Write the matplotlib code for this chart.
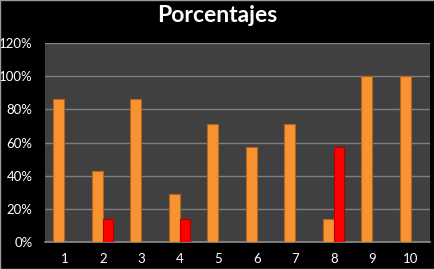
import numpy as np
import matplotlib
matplotlib.use("Agg")
import matplotlib.pyplot as plt
from matplotlib.ticker import PercentFormatter

# Data
categories = ["1", "2", "3", "4", "5", "6", "7", "8", "9", "10"]
orange_vals = [86, 43, 86, 29, 71, 57, 71, 14, 100, 100]
red_vals = [0, 14, 0, 14, 0, 0, 0, 57, 0, 0]

plt.rcParams['font.family'] = ['Lato', 'DejaVu Sans']

fig = plt.figure(figsize=(4.35, 2.69), dpi=100, facecolor='black')
ax = fig.add_axes([45 / 435, 1 - 242 / 269, 385 / 435, 199 / 269])
ax.set_facecolor('#404040')

x = np.arange(len(categories))
w = 0.29
ax.bar(x - w / 2, orange_vals, width=w, color='#F79431', edgecolor='#B8621C',
       linewidth=0.8, zorder=3)
red_x = [xi + w / 2 for xi, v in zip(x, red_vals) if v > 0]
red_h = [v for v in red_vals if v > 0]
ax.bar(red_x, red_h, width=w * 0.92, color='#FF0000', edgecolor='#B00000',
       linewidth=0.8, zorder=3)

ax.set_xlim(-0.5, len(categories) - 0.5)
ax.set_ylim(0, 120)
ax.set_yticks(range(0, 121, 20))
ax.yaxis.set_major_formatter(PercentFormatter(decimals=0))
ax.set_xticks(x)
ax.set_xticklabels(categories)
ax.grid(axis='y', color='#7f7f7f', linewidth=1, zorder=1)
ax.tick_params(colors='white', labelsize=9.5, length=0)
ax.tick_params(axis='x', pad=8)
ax.tick_params(axis='y', pad=9)
for s in ['left', 'right', 'top']:
    ax.spines[s].set_visible(False)
ax.spines['bottom'].set_color('#8c8c8c')
ax.spines['bottom'].set_linewidth(1.2)

fig.text(0.5, 1 - 16 / 269, 'Porcentajes', color='white', fontsize=16.5,
         fontweight='bold', ha='center', va='center')

# thin light frame around the chart image
fig.patches.append(plt.Rectangle((0, 0), 1, 1, transform=fig.transFigure,
                                 fill=False, edgecolor='#9a9a9a', linewidth=1))

fig.savefig('out.png', dpi=100, facecolor='black')
